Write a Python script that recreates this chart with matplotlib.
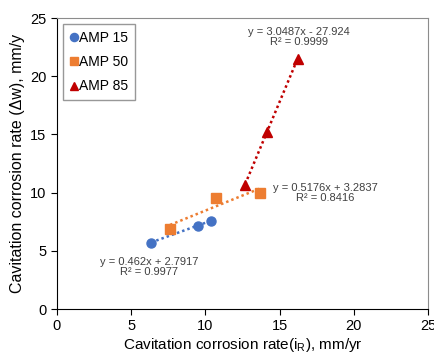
import matplotlib
matplotlib.use("Agg")
import matplotlib.pyplot as plt
import numpy as np

plt.rcParams['font.family'] = ['Liberation Sans', 'DejaVu Sans']

# data
amp15_x = [6.34, 9.47, 10.39]
amp15_y = [5.66, 7.15, 7.55]
amp50_x = [7.62, 10.70, 13.67]
amp50_y = [6.87, 9.55, 9.95]
amp85_x = [12.68, 14.16, 16.23]
amp85_y = [10.64, 15.19, 21.48]

fits = {"AMP 15": (0.462, 2.7917, 0.9977),
        "AMP 50": (0.5176, 3.2837, 0.8416),
        "AMP 85": (3.0487, -27.924, 0.9999)}

fig = plt.figure(figsize=(4.35, 3.54), dpi=100)
ax = fig.add_axes([0.131, 0.127, 0.853, 0.822])

series = [("AMP 15", amp15_x, amp15_y, "#4472C4", "o", 6.5),
          ("AMP 50", amp50_x, amp50_y, "#ED7D31", "s", 6.5),
          ("AMP 85", amp85_x, amp85_y, "#C00000", "^", 7)]

for name, xs, ys, col, mk, ms in series:
    m, b, r2 = fits[name]
    lx = np.array([min(xs), max(xs)])
    ax.plot(lx, m * lx + b, linestyle=(0, (1, 1.2)), color=col, lw=1.8, zorder=2)
    ax.plot(xs, ys, linestyle="none", marker=mk, color=col, markersize=ms, label=name, zorder=3)

ax.text(16.3, 23.4, "y = 3.0487x - 27.924\nR² = 0.9999", ha="center", va="center",
        fontsize=8, color="#404040", linespacing=1.0)
ax.text(18.1, 9.97, "y = 0.5176x + 3.2837\nR² = 0.8416", ha="center", va="center",
        fontsize=8, color="#404040", linespacing=1.0)
ax.text(6.2, 3.57, "y = 0.462x + 2.7917\nR² = 0.9977", ha="center", va="center",
        fontsize=8, color="#404040", linespacing=1.0)

ax.set_xlim(0, 25)
ax.set_ylim(0, 25)
ax.set_xticks([0, 5, 10, 15, 20, 25])
ax.set_yticks([0, 5, 10, 15, 20, 25])
ax.tick_params(direction="out", length=4, labelsize=10.5, colors="black")
for s in ["top", "right"]:
    ax.spines[s].set_color("#8c8c8c")
for s in ["left", "bottom"]:
    ax.spines[s].set_color("black")

ax.set_xlabel("Cavitation corrosion rate(i$_\\mathregular{R}$), mm/yr", fontsize=11, labelpad=2)
ax.set_ylabel("Cavitation corrosion rate (\u0394w), mm/y", fontsize=11.5, labelpad=4)

leg = ax.legend(loc="upper left", fontsize=10, frameon=True, fancybox=False,
                edgecolor="#7f7f7f", handletextpad=0.1, handlelength=0.6,
                borderaxespad=0.4, labelspacing=0.75, borderpad=0.5, markerscale=0.9)
leg.get_frame().set_linewidth(1.0)

fig.savefig("out.png", dpi=100)
